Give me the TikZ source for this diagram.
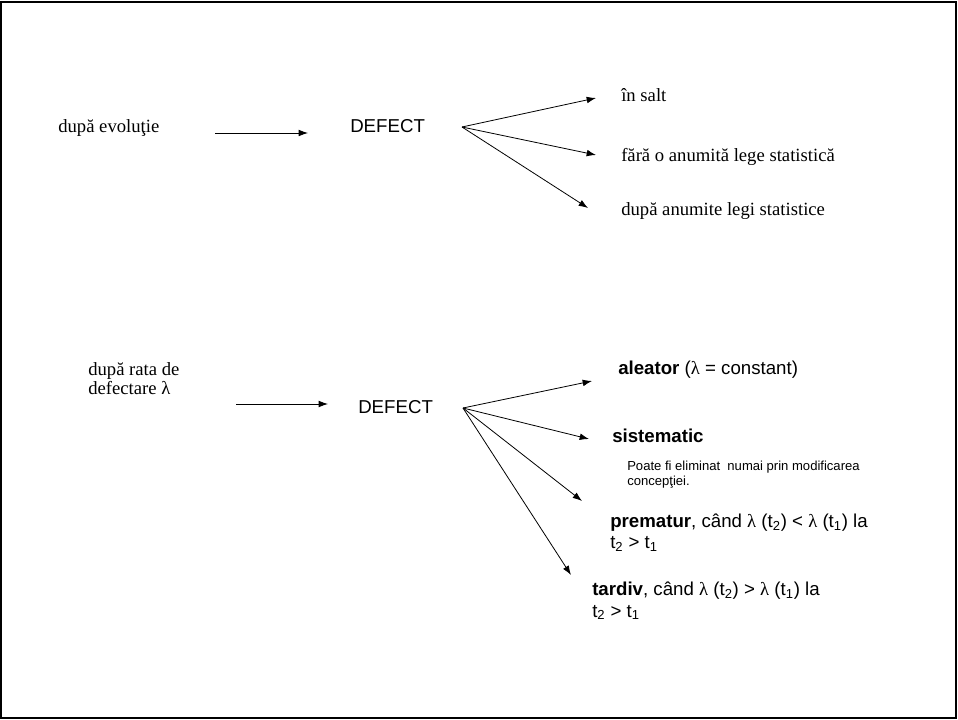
\documentclass[tikz,border=0pt]{standalone}
\usepackage{fontspec}
\setmainfont{Liberation Serif}
\setsansfont{Liberation Sans}
\usetikzlibrary{arrows.meta}

\newcommand{\lam}{{\rmfamily λ}}
\newcommand{\tsub}[1]{t\textsubscript{#1}}

\begin{document}
\begin{tikzpicture}[x=0.75pt,y=-0.75pt,
  serif/.style={anchor=base west,inner sep=0pt,font=\rmfamily\fontsize{14}{14.5}\selectfont},
  sans/.style={anchor=base west,inner sep=0pt,font=\sffamily\fontsize{14}{16}\selectfont},
  note/.style={anchor=base west,inner sep=0pt,align=left,font=\sffamily\fontsize{9.8}{11.3}\selectfont},
  arr/.style={-{Latex[length=7pt,width=5pt]},line width=0.6pt}]
\useasboundingbox (0,0) rectangle (958,720);
\draw[line width=1.6pt] (1,2) rectangle (956,718);

% evolutie
\node[serif] (ev) at (58,133){după evoluţie};
\node[sans] (def1) at (350,133){DEFECT};
\coordinate (ev1) at (215,133);
\coordinate (ev2) at (308,133);
\draw[arr] (ev1) -- (ev2);
\coordinate (f1) at (462,127);
\coordinate (t11) at (596,98);
\coordinate (t12) at (596,155);
\coordinate (t13) at (588,208);
\draw[arr] (f1) -- (t11);
\draw[arr] (f1) -- (t12);
\draw[arr] (f1) -- (t13);
\node[serif] (salt) at (621,102){în salt};
\node[serif] (fara) at (621,162){fără o anumită lege statistică};
\node[serif] (legi) at (621,216){după anumite legi statistice};

% rata de defectare
\node[serif,align=left] (rata) at (88,395){după rata de\\defectare λ};
\node[sans] (def2) at (358,414){DEFECT};
\coordinate (r1) at (236,404);
\coordinate (r2) at (328,404);
\draw[arr] (r1) -- (r2);
\coordinate (f2) at (463,408);
\coordinate (t21) at (592,381);
\coordinate (t22) at (589,439);
\coordinate (t23) at (582,501);
\coordinate (t24) at (571,575);
\draw[arr] (f2) -- (t21);
\draw[arr] (f2) -- (t22);
\draw[arr] (f2) -- (t23);
\draw[arr] (f2) -- (t24);
\node[sans] (alea) at (618,375){\textbf{aleator} (\lam{} = constant)};
\node[sans] (sist) at (612,443){\textbf{sistematic}};
\node[note] (poate) at (627,486){Poate fi eliminat \ numai prin modificarea\\concepţiei.};
\node[sans,align=left] (prem) at (610,549){\textbf{prematur}, când \lam{} (\tsub{2}) < \lam{} (\tsub{1}) la\\\tsub{2} > \tsub{1}};
\node[sans,align=left] (tard) at (592,617){\textbf{tardiv}, când \lam{} (\tsub{2}) > \lam{} (\tsub{1}) la\\\tsub{2} > \tsub{1}};

\end{tikzpicture}
\end{document}
